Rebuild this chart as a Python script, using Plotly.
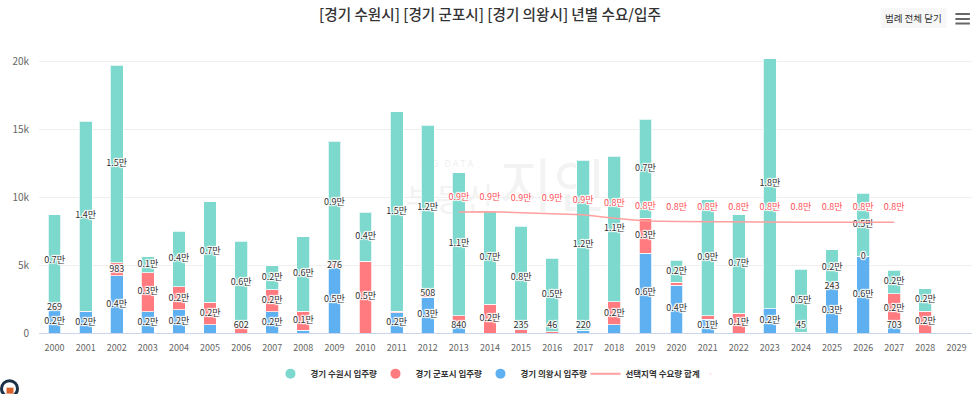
import plotly.graph_objects as go

FONT = "Noto Sans CJK KR, Noto Sans, sans-serif"
years = [str(y) for y in range(2000, 2030)]

blue = [1700, 1550, 4200, 1550, 1700, 600, 0, 1550, 200, 4830, 0, 1500, 2650, 840, 0, 0, 0, 220, 600, 5880,
        3500, 1030, 0, 1800, 45, 3300, 5640, 703, 0, 0]
red = [269, 50, 983, 2900, 1700, 1650, 602, 1650, 1400, 276, 5270, 100, 508, 430, 2100, 235, 100, 0, 1700, 2570,
       250, 240, 1450, 0, 0, 243, 0, 2170, 1600, 0]
teal = [6730, 14000, 14520, 1150, 4100, 7400, 6150, 1750, 5500, 9000, 3600, 14700, 12150, 10530, 6850, 7620, 5400,
        12480, 10700, 7300, 1590, 8530, 7250, 18400, 4650, 2570, 4650, 1730, 1660, 0]
demand = [None] * 13 + [8900, 8930, 8860, 8800, 8700, 8450, 8250, 8200, 8180, 8170, 8160, 8160, 8160, 8160, 8150,
                        None, None]

blue_labels = ["0.2만", "0.2만", "0.4만", "0.2만", "0.2만", "", "", "0.2만", "", "0.5만", "", "0.2만", "0.3만", "840", "", "", "", "220",
               "", "0.6만", "0.4만", "0.1만", "", "0.2만", "45", "0.3만", "0.6만", "703", "", ""]
red_labels = ["269", "", "983", "0.3만", "0.2만", "0.2만", "602", "0.2만", "0.1만", "276", "0.5만", "", "508", "", "0.2만", "235", "46", "",
              "0.2만", "0.3만", "", "", "0.1만", "", "", "243", "0", "0.2만", "0.2만", ""]
teal_labels = ["0.7만", "1.4만", "1.5만", "0.1만", "0.4만", "0.7만", "0.6만", "0.2만", "0.6만", "0.9만", "0.4만", "1.5만", "1.2만", "1.1만", "0.7만", "0.8만", "0.5만",
               "1.2만", "1.1만", "0.7만", "0.2만", "0.9만", "0.7만", "1.8만", "0.5만", "0.2만", "0.5만", "0.2만", "0.2만", ""]
demand_labels = [""] * 13 + ["0.9만"] * 5 + ["0.8만"] * 10 + ["", ""]

names = ["경기 수원시 입주량", "경기 군포시 입주량", "경기 의왕시 입주량", "선택지역 수요량 합계"]
TEAL, RED, BLUE, PINK = "#7dd8cd", "#ff7b7f", "#5fb0f0", "#ff9f9f"
HALO = "1px 0 1px #fff, -1px 0 1px #fff, 0 1px 1px #fff, 0 -1px 1px #fff, 1px 1px 1px #fff, -1px -1px 1px #fff, 1px -1px 1px #fff, -1px 1px 1px #fff"

W, H = 980, 394
L, R, T, B = 38.5, 971.6, 40, 333.3
def px(x): return (x - L) / (R - L)
def py(y): return (B - y) / (B - T)

fig = go.Figure()
for vals, col in [(blue, BLUE), (red, RED), (teal, TEAL)]:
    fig.add_bar(x=years, y=vals, marker=dict(color=col, line=dict(color="rgba(255,255,255,0.75)", width=1)),
                showlegend=False, hoverinfo="skip")

# segment-centre label heights, kept off the axis the way the original keeps them inside the plot
FLOOR = 520
base_t = [a + b for a, b in zip(blue, red)]
mid_b = [max(v / 2, FLOOR) for v in blue]
mid_r = [max(b + v / 2, FLOOR) for b, v in zip(blue, red)]
mid_t = [max(b + v / 2, FLOOR) for b, v in zip(base_t, teal)]
for mids, labs in [(mid_b, blue_labels), (mid_r, red_labels), (mid_t, teal_labels)]:
    fig.add_scatter(x=years, y=mids, mode="text", text=labs, textposition="middle center", showlegend=False,
                    textfont=dict(family=FONT, size=9, color="#333333", shadow=HALO), hoverinfo="skip")

fig.add_scatter(x=years, y=demand, mode="lines+markers+text", text=demand_labels, textposition="top center", showlegend=False,
                line=dict(color=PINK, width=1.5), marker=dict(size=14, opacity=0), hoverinfo="skip",
                textfont=dict(family=FONT, size=9, color="#ff5057", shadow=HALO))

for name, col in zip(names[:3], [TEAL, RED, BLUE]):
    fig.add_scatter(x=years[:1], y=[None], mode="markers", name=name, marker=dict(color=col, size=10, symbol="circle"))
fig.add_scatter(x=years[:1], y=[None], mode="lines", name=names[3], line=dict(color=PINK, width=2))
# empty trailing legend slot, so the last entry's text is not cut by the fixed entry width
fig.add_scatter(x=years[:1], y=[None], mode="markers", name=" ", marker=dict(size=1, opacity=0))

shapes = [
    dict(type="rect", xref="paper", yref="paper", x0=px(881), x1=px(946), y0=py(28), y1=py(8), fillcolor="#f7f7f7", line_width=0),
]
for yy in (14, 19, 23.5):
    shapes.append(dict(type="line", xref="paper", yref="paper", x0=px(955), x1=px(969.5), y0=py(yy), y1=py(yy),
                       line=dict(color="#666666", width=2)))
shapes.append(dict(type="circle", xref="paper", yref="paper", x0=px(1), x1=px(17), y0=py(397), y1=py(381),
                   fillcolor="#ffffff", line=dict(color="#1c3146", width=3)))
shapes.append(dict(type="rect", xref="paper", yref="paper", x0=px(6), x1=px(13), y0=py(394), y1=py(388),
                   fillcolor="#d9622b", line_width=0))
# faint watermark, beneath the bars
shapes.append(dict(type="rect", xref="paper", yref="paper", layer="below", x0=px(400), x1=px(500), y0=py(232), y1=py(172),
                   line_width=0, label=dict(text="부동산", font=dict(family=FONT, size=32, color="#f3f3f3"))))
shapes.append(dict(type="rect", xref="paper", yref="paper", layer="below", x0=px(500), x1=px(605), y0=py(232), y1=py(150),
                   line_width=0, label=dict(text="지인", font=dict(family=FONT, size=58, color="#f3f3f3"))))
shapes.append(dict(type="rect", xref="paper", yref="paper", layer="below", x0=px(400), x1=px(492), y0=py(172), y1=py(158),
                   line_width=0, label=dict(text="B I G   D A T A", font=dict(family=FONT, size=9, color="#f0f0f0"))))

fig.update_layout(
    width=W, height=H, barmode="stack", bargap=0.59,
    margin=dict(l=L, r=W - R, t=T, b=H - B, autoexpand=False),
    paper_bgcolor="#ffffff", plot_bgcolor="#ffffff",
    font=dict(family=FONT, color="#333333"),
    title=dict(text="[경기 수원시] [경기 군포시] [경기 의왕시] 년별 수요/입주", x=490 / W, xanchor="center", y=1 - 15 / H, yanchor="middle",
               font=dict(family=FONT, size=14.6, color="#333333", weight=500)),
    xaxis=dict(type="category", range=[-0.5, 29.5], tickfont=dict(size=9, color="#666666", family=FONT), showgrid=False, ticks="", showline=True,
               linecolor="#ccd6eb", linewidth=1, fixedrange=True, ticklabelstandoff=6),
    yaxis=dict(range=[0, (B - T) / 13.6 * 1000], tickvals=[0, 5000, 10000, 15000, 20000], ticktext=["0", "5k", "10k", "15k", "20k"],
               tickfont=dict(size=10, color="#666666", family=FONT), gridcolor="#efefef", gridwidth=1, zeroline=False, ticks="",
               showline=False, fixedrange=True, ticklabelstandoff=9),
    legend=dict(orientation="h", x=px(270), xanchor="left", y=py(374), yanchor="middle", entrywidth=60, entrywidthmode="pixels",
                itemwidth=30, traceorder="normal", font=dict(family=FONT, size=8.5, color="#333333", weight="bold"), bgcolor="rgba(0,0,0,0)"),
    shapes=shapes,
    annotations=[dict(text="범례 전체 닫기", xref="paper", yref="paper", x=px(913.5), y=py(18), xanchor="center", yanchor="middle", showarrow=False,
                      font=dict(family=FONT, size=9.5, color="#333333"))],
    showlegend=True,
)
fig.write_html("out.html", config={"displayModeBar": False}, post_script="document.body.style.margin='0';document.body.style.overflow='hidden';")
